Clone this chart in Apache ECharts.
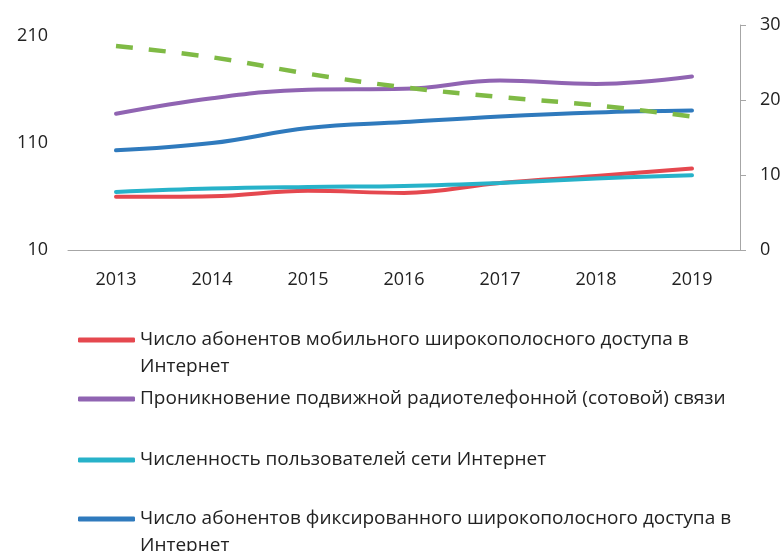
<!DOCTYPE html>
<html>
<head>
<meta charset="utf-8">
<script src="https://cdn.jsdelivr.net/npm/echarts@6/dist/echarts.min.js"></script>
<style>
  html, body { margin: 0; padding: 0; background: #fff; }
  #main { width: 784px; height: 551px; }
</style>
</head>
<body>
<div id="main"></div>
<script>
// годы
var years = ['2013', '2014', '2015', '2016', '2017', '2018', '2019'];

// левая ось
var mobileBroadband = [59.6, 60.2, 65.2, 63.3, 72.6, 79.1, 86.0];
var cellularPenetration = [137.2, 151.7, 159.5, 160.4, 168.1, 165.0, 171.9];
var internetUsers = [64.2, 67.4, 68.9, 69.8, 72.6, 76.7, 79.8];
var fixedBroadband = [103.0, 109.8, 123.8, 129.4, 134.7, 138.4, 140.2];

// правая ось (пунктир, без подписи в легенде)
var dashedSeries = [27.2, 25.7, 23.5, 21.7, 20.4, 19.3, 17.8];

var names = [
  'Число абонентов мобильного широкополосного доступа в Интернет',
  'Проникновение подвижной радиотелефонной (сотовой) связи',
  'Численность пользователей сети Интернет',
  'Число абонентов фиксированного широкополосного доступа в Интернет'
];
// пустая строка сверху, чтобы значок стоял напротив первой строки
var legendText = [
  '\nЧисло абонентов мобильного широкополосного доступа в\nИнтернет',
  'Проникновение подвижной радиотелефонной (сотовой) связи',
  'Численность пользователей сети Интернет',
  '\nЧисло абонентов фиксированного широкополосного доступа в\nИнтернет'
];
var colors = ['#e5484f', '#9064b2', '#27b2c9', '#2f7abd', '#7fba45'];

var font = '"Open Sans", "Noto Sans", sans-serif';

function makeLegend(i, top) {
  return {
    data: [names[i]],
    left: 78,
    top: top,
    padding: 0,
    orient: 'vertical',
    icon: 'roundRect',
    itemWidth: 57,
    itemHeight: 5,
    itemGap: 0,
    formatter: function () { return legendText[i]; },
    textStyle: {
      fontFamily: font,
      fontSize: 19,
      color: '#222',
      lineHeight: 27
    }
  };
}

function lineSeries(i, data) {
  return {
    name: names[i],
    type: 'line',
    data: data,
    smooth: 0.4,
    symbol: 'none',
    yAxisIndex: 0,
    lineStyle: { color: colors[i], width: 4, cap: 'round' },
    itemStyle: { color: colors[i] }
  };
}

var chart = echarts.init(document.getElementById('main'));

var option = {
  animation: false,
  grid: { left: 68, right: 44, top: 25, bottom: 301 },
  legend: [
    makeLegend(0, 299.5),
    makeLegend(1, 385.5),
    makeLegend(2, 446.5),
    makeLegend(3, 478.5)
  ],
  xAxis: {
    type: 'category',
    data: years,
    boundaryGap: true,
    axisLine: { lineStyle: { color: '#a6a6a6', width: 1 } },
    axisTick: { show: false },
    axisLabel: { fontFamily: font, fontSize: 18, color: '#222', margin: 21 }
  },
  yAxis: [
    {
      type: 'value',
      min: 10,
      max: 220,
      interval: 100,
      position: 'left',
      axisLine: { show: false },
      axisTick: { show: false },
      splitLine: { show: false },
      axisLabel: { fontFamily: font, fontSize: 18, color: '#222', margin: 20, showMaxLabel: false }
    },
    {
      type: 'value',
      min: 0,
      max: 30,
      interval: 10,
      position: 'right',
      axisLine: { show: true, lineStyle: { color: '#a6a6a6' } },
      axisTick: { show: true, length: 6, lineStyle: { color: '#a6a6a6' } },
      splitLine: { show: false },
      axisLabel: { fontFamily: font, fontSize: 18, color: '#222', margin: 20 }
    }
  ],
  series: [
    lineSeries(0, mobileBroadband),
    lineSeries(1, cellularPenetration),
    lineSeries(2, internetUsers),
    lineSeries(3, fixedBroadband),
    {
      name: 'dashed',
      type: 'line',
      data: dashedSeries,
      yAxisIndex: 1,
      smooth: 0.4,
      symbol: 'none',
      lineStyle: { color: colors[4], width: 4.5, type: [17, 16] }
    }
  ]
};

chart.setOption(option);
</script>
</body>
</html>
